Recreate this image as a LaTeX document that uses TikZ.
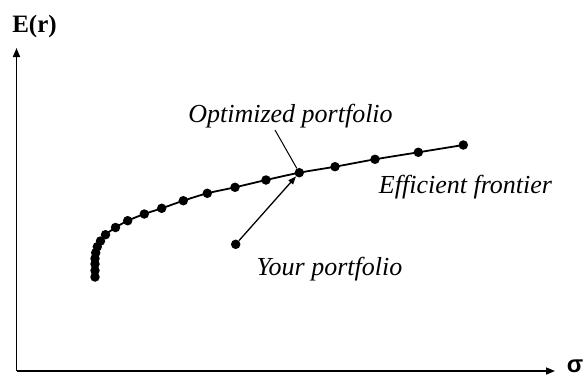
\documentclass[tikz,border=0pt]{standalone}
\usepackage{fontspec}
\setmainfont{Liberation Serif}
\newfontfamily\sigfont{Liberation Sans}
\usetikzlibrary{arrows.meta}
\begin{document}
\begin{tikzpicture}[x=1pt,y=-1pt,
  dotnode/.style={circle,fill=black,inner sep=0pt,minimum size=9.5pt},
  axisline/.style={line width=1.6pt,-{Triangle[length=9pt,width=7pt]}},
  lbl/.style={font=\fontsize{26}{30}\selectfont\itshape,inner sep=0pt,anchor=base},
  frontier/.style={line width=1.8pt}]
\useasboundingbox (0,0) rectangle (586,378);
% axes
\coordinate (O) at (16.5,371);
\coordinate (ytip) at (16.5,48);
\coordinate (xtip) at (555,371);
\draw[axisline] (O) -- (ytip);
\draw[axisline] (O) -- (xtip);
\node[font=\fontsize{25}{28}\selectfont\bfseries,inner sep=0pt,anchor=base] (ylab) at (34.5,32) {E(r)};
\node[font=\fontsize{24}{28}\selectfont\sigfont\bfseries,inner sep=0pt,anchor=base] (xlab) at (575,372) {σ};
% frontier coordinates
\coordinate (f1) at (95,277);
\coordinate (f2) at (95,270.5);
\coordinate (f3) at (95,264);
\coordinate (f4) at (95,258.5);
\coordinate (f5) at (95.7,252.7);
\coordinate (f6) at (97.3,246.7);
\coordinate (f7) at (100.5,241);
\coordinate (f8) at (105.5,234.7);
\coordinate (f9) at (115.5,227.5);
\coordinate (f10) at (127.7,220.7);
\coordinate (f11) at (144.3,214);
\coordinate (f12) at (161.7,208.3);
\coordinate (f13) at (183.3,200.7);
\coordinate (f14) at (207.3,193.3);
\coordinate (f15) at (235,187.3);
\coordinate (f16) at (266,180);
\coordinate (f17) at (299.3,172.7);
\coordinate (f18) at (335,166.7);
\coordinate (f19) at (375,159.3);
\coordinate (f20) at (418.3,152.3);
\coordinate (f21) at (463.3,145);
\draw[frontier] plot[smooth,tension=0.5] coordinates {(f1) (f2) (f3) (f4) (f5) (f6) (f7) (f8) (f9) (f10) (f11) (f12) (f13) (f14) (f15) (f16) (f17) (f18) (f19) (f20) (f21)};
\foreach \i in {1,...,16,18,19,20,21} {
  \node[dotnode] (d\i) at (f\i) {};
}
\node[dotnode] (opt) at (f17) {};
% your portfolio
\node[dotnode] (your) at (235.7,244.3) {};
\draw[line width=1.3pt,-{Triangle[length=8pt,width=6pt]}] (your) -- (opt);
% labels
\node[lbl] (optlab) at (290.5,122) {Optimized portfolio};
\coordinate (optfoot) at (275,130);
\draw[line width=1pt] (optfoot) -- (opt);
\node[lbl] (efflab) at (465.5,193) {Efficient frontier};
\node[lbl] (yourlab) at (329.5,275) {Your portfolio};
\end{tikzpicture}
\end{document}
